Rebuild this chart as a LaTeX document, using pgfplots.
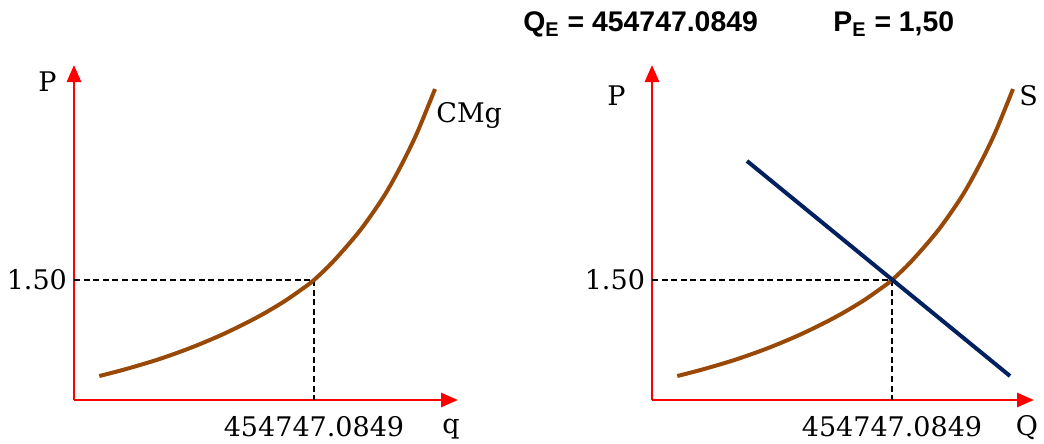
\documentclass[border=0pt]{standalone}
\usepackage{pgfplots}
\pgfplotsset{compat=1.18}
\usepackage{pgfplotstable}
\usetikzlibrary{arrows.meta}
\usepackage{fontspec}
\setmainfont{DejaVu Serif}
\newfontfamily\titlefont{Liberation Sans}

\definecolor{cmgbrown}{RGB}{152,72,7}
\definecolor{demnavy}{RGB}{0,32,96}

% marginal cost / supply curve (q, P)
\pgfplotstableread{
q      p
47938  0.300
93413  0.3775
156698 0.501
219795 0.649
282891 0.824
346176 1.031
396578 1.225
434473 1.398
454747 1.500
491316 1.733
541907 2.119
586055 2.535
617698 2.904
649341 3.329
684016 3.8875
}\cmgdata

% demand line
\pgfplotstableread{
q      p
180004 2.9875
678331 0.30
}\demdata

\pgfplotsset{
  econ/.style={
    scale only axis, height=167.5pt,
    xmin=0, ymin=0, ymax=4.1875,
    axis lines=left,
    axis line style={red, line width=1.4pt, -{Triangle[length=8.5pt,width=7pt]}},
    xtick={454747.0849}, xticklabels={454747.0849},
    ytick={1.5}, yticklabels={1.50},
    major tick length=0pt,
    tick label style={font=\fontsize{13.5}{15}\selectfont},
    xticklabel style={yshift=-4.5pt},
    clip=false, anchor=south west,
  },
  guide/.style={black, line width=0.8pt, dash pattern=on 3pt off 1.8pt},
}

\begin{document}
\begin{tikzpicture}
\useasboundingbox (0,0) rectangle (522pt,-222pt);

\begin{axis}[econ, at={(37pt,-200pt)}, width=192pt, xmax=727596]
  \addplot[guide] coordinates {(0,1.5) (454747.0849,1.5) (454747.0849,0)};
  \addplot[cmgbrown, line width=2pt, smooth] table[x=q, y=p] {\cmgdata};
\end{axis}

\begin{axis}[econ, at={(326pt,-200pt)}, width=191pt, xmax=723806]
  \addplot[guide] coordinates {(0,1.5) (454747.0849,1.5) (454747.0849,0)};
  \addplot[cmgbrown, line width=2pt, smooth] table[x=q, y=p] {\cmgdata};
  \addplot[demnavy, line width=2pt] table[x=q, y=p] {\demdata};
\end{axis}

\begin{scope}[font=\fontsize{13.5}{15}\selectfont]
  \node[anchor=base west, inner sep=0] at (19pt,-46pt) {P};
  \node[anchor=base west, inner sep=0] at (303.5pt,-52.5pt) {P};
  \node at (225.5pt,-214.5pt) {q};
  \node at (513.5pt,-214pt) {Q};
  \node[anchor=base west, inner sep=0] at (218pt,-61.5pt) {CMg};
  \node[anchor=base west, inner sep=0] at (509.5pt,-53pt) {S};
\end{scope}

\begin{scope}[font=\titlefont\bfseries\fontsize{14.2}{16}\selectfont]
  \node[anchor=base west, inner sep=0] at (261.5pt,-16pt) {Q\textsubscript{E} = 454747.0849};
  \node[anchor=base west, inner sep=0] at (416.5pt,-16pt) {P\textsubscript{E} = 1,50};
\end{scope}
\end{tikzpicture}
\end{document}
